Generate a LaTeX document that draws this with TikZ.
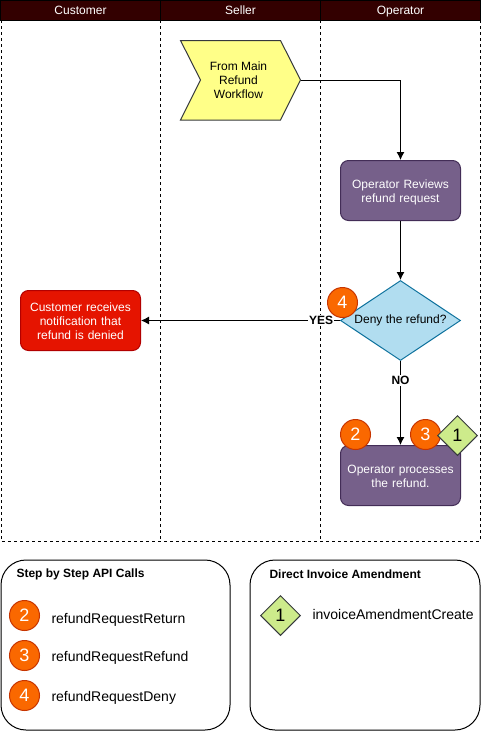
\documentclass[tikz,border=0pt]{standalone}
\usepackage{fontspec}
\setmainfont{Liberation Sans}
\usetikzlibrary{arrows.meta}
\usetikzlibrary{shapes.geometric}
\definecolor{laneHead}{HTML}{330000}
\definecolor{purpleFill}{HTML}{76608A}
\definecolor{purpleLine}{HTML}{432D57}
\definecolor{blueFill}{HTML}{B1DDF0}
\definecolor{blueLine}{HTML}{10739E}
\definecolor{redFill}{HTML}{E51400}
\definecolor{redLine}{HTML}{B20000}
\definecolor{orangeFill}{HTML}{FA6800}
\definecolor{orangeLine}{HTML}{C73500}
\definecolor{greenFill}{HTML}{CDEB8B}
\definecolor{greenLine}{HTML}{36393D}
\definecolor{yellowFill}{HTML}{FFFF88}
\newcommand{\sizeA}{\fontsize{12}{14}\selectfont}
\newcommand{\sizeB}{\fontsize{14}{16}\selectfont}
\newcommand{\sizeC}{\fontsize{18}{20}\selectfont}
\tikzset{basic/.style={draw,line width=1pt,align=center,inner sep=0pt,text width=116pt,
                       font=\sizeA}}
\begin{document}
\begin{tikzpicture}[>={Latex[length=8pt,width=8pt]},x=1pt,y=-1pt,line width=1pt]
	\tikzstyle{lanehead}=[draw=black,fill=laneHead,text=white,minimum width=160pt,minimum height=20pt,inner sep=0pt,font=\sizeA,text height=8.5pt,text depth=0pt]
	% "text height" and "text depth" set the labels at the same height
	\tikzstyle{task}=[basic,rounded corners=8pt,minimum width=120pt,minimum height=60pt,text height=10.7pt,text depth=14.5pt]
	\tikzstyle{badge}=[circle,draw=orangeLine,fill=orangeFill,text=white,minimum size=30pt,inner sep=0pt,font=\sizeC]
	\tikzstyle{api}=[diamond,draw=greenLine,fill=greenFill,minimum size=40pt,inner sep=0pt,font=\sizeC]
	\tikzstyle{legend}=[draw,rounded corners=25pt,minimum width=229pt,minimum height=170pt]
	\tikzstyle{legendtext}=[anchor=west,inner sep=0pt,font=\sizeB,text height=10pt,text depth=0pt]
	\tikzstyle{legendtitle}=[anchor=west,inner sep=0pt,font=\sizeA\bfseries]
	\tikzstyle{branch}=[fill=white,inner sep=1pt,font=\sizeA\bfseries]
	\useasboundingbox (0,0) rectangle (481,731);

	% The three lanes: dashed frame first, the heads on top
	\draw[dashed] (1,20) -- (1,541) -- (480,541) -- (480,20);
	\draw[dashed] (160.5,20) -- (160.5,541);
	\draw[dashed] (320.5,20) -- (320.5,541);
	\node (lane_c) [lanehead] at (80.5,10.5)  {Customer};
	\node (lane_s) [lanehead] at (240.5,10.5) {Seller};
	\node (lane_o) [lanehead] at (400.5,10.5) {Operator};

	% Entry from the main workflow
	\draw[draw=greenLine,fill=yellowFill] (180.5,40.5) -- (280.5,40.5) -- (300.5,80) -- (280.5,120) -- (180.5,120) -- (200.5,80) -- cycle;
	\coordinate (from_tip) at (300.5,80);
	\node (from_main) [align=center,inner sep=0pt,font=\sizeA] at (238.5,80.5) {From Main\\Refund\\Workflow};

	% The flow itself
	\node (op_review)  [task,fill=purpleFill,draw=purpleLine,text=white] at (400.5,190.5) {Operator Reviews\\refund request};
	\node (deny_q)     [diamond,draw=blueLine,fill=blueFill,minimum width=120pt,minimum height=80pt,inner sep=0pt,font=\sizeA,aspect=1.5] at (400.5,320.5) {Deny the refund?};
	\node (cust_note)  [task,text height=10pt,text depth=28pt,fill=redFill,draw=redLine,text=white] at (80.5,320.5) {Customer receives\\notification that\\refund is denied};
	\node (op_process) [task,fill=purpleFill,draw=purpleLine,text=white] at (400.5,475.5) {Operator processes\\the refund.};

	% The diagram elements are now connected through arrows:
	\draw[->] (from_tip) -| (op_review.north);
	\path[->]
		(op_review) edge (deny_q)
		(deny_q) edge node[branch,pos=.095]{YES} (cust_note)
		(deny_q) edge node[branch,pos=.235]{NO} (op_process)
		;

	% Badges on the flow
	\node (badge_4) [badge] at (342.5,302.5) {4};
	\node (badge_2) [badge] at (355.5,434.5) {2};
	\node (badge_3) [badge] at (425.5,434.5) {3};
	\node (api_1)   [api]   at (457.5,435.5) {1};

	% Legend, left box
	\node (legend_l) [legend] at (115.5,645) {};
	\node (title_l)  [legendtitle] at (16,574) {Step by Step API Calls};
	\node (key_2)    [badge] at (24.5,615.5) {2};
	\node (key_3)    [badge] at (24.5,655.5) {3};
	\node (key_4)    [badge] at (24.5,695.5) {4};
	\node (call_2)   [legendtext] at (51,618) {refundRequestReturn};
	\node (call_3)   [legendtext] at (51,656) {refundRequestRefund};
	\node (call_4)   [legendtext] at (51,696) {refundRequestDeny};

	% Legend, right box
	\node (legend_r) [legend,minimum width=230pt] at (365,645) {};
	\node (title_r)  [legendtitle] at (269,574) {Direct Invoice Amendment};
	\node (key_1)    [api] at (280.5,615.5) {1};
	\node (call_1)   [legendtext] at (312,614) {invoiceAmendmentCreate};
\end{tikzpicture}
\end{document}
